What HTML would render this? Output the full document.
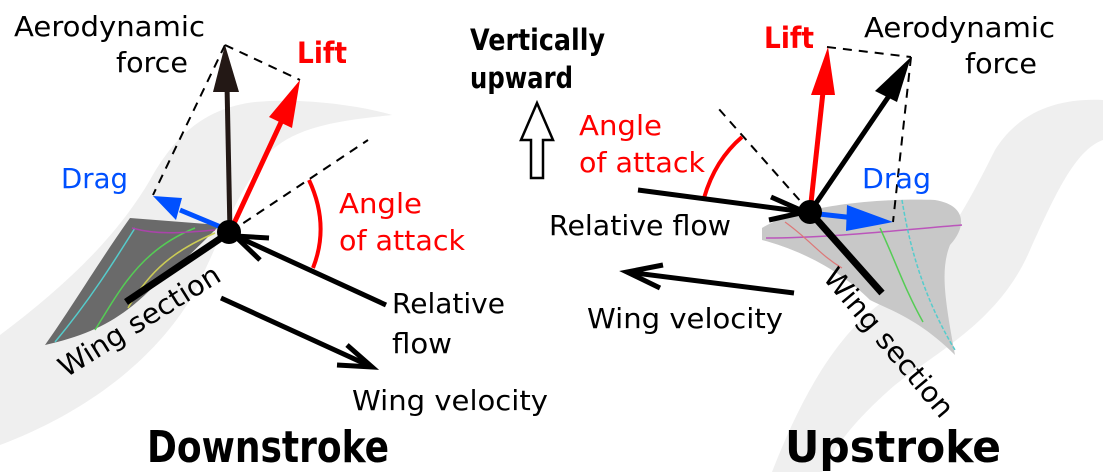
<!DOCTYPE html>
<html><head><meta charset="utf-8"><style>
html,body{margin:0;padding:0;background:#fff;}
svg{display:block;}
text{font-family:"DejaVu Sans","Liberation Sans",sans-serif;}
</style></head><body>
<svg width="1103" height="472" viewBox="0 0 1103 472" xmlns="http://www.w3.org/2000/svg">
<!-- background gray blobs -->
<path d="M0,335 C60,290 115,240 150,180 C175,135 205,108 255,102 C310,97 370,108 392,115 C345,120 300,125 272,150 C235,190 215,255 190,300 C150,365 80,415 0,445 Z" fill="#efefef"/>
<path d="M772,472 C800,400 835,335 885,300 C935,265 965,210 995,150 C1020,110 1060,98 1103,100 L1103,140 C1075,150 1055,195 1030,250 C1000,320 940,350 895,385 C860,415 835,445 822,472 Z" fill="#efefef"/>
<!-- left wing image -->
<path d="M130,218 L220,225 C200,245 180,265 150,290 C120,320 90,335 45,345 C70,310 100,260 130,218 Z" fill="#6a6a6a"/>
<path d="M55,342 C90,300 115,260 135,228" stroke="#5cc" stroke-width="1.5" fill="none"/>
<path d="M95,330 C120,290 140,250 195,228" stroke="#5c5" stroke-width="1.5" fill="none"/>
<path d="M128,308 C150,270 175,250 215,233" stroke="#cc5" stroke-width="1.5" fill="none"/>
<path d="M132,228 C160,236 190,232 215,230" stroke="#a4a" stroke-width="1.5" fill="none"/>
<!-- right wing image -->
<path d="M762,228 C800,205 880,198 935,200 C965,205 968,225 950,245 C940,270 945,300 955,355 C920,320 890,310 870,300 C840,270 800,250 762,240 Z" fill="#c8c8c8"/>
<path d="M766,238 C830,238 900,230 962,225" stroke="#b5b" stroke-width="1.5" fill="none"/>
<path d="M880,228 C895,260 905,290 923,322" stroke="#5c5" stroke-width="1.5" fill="none"/>
<path d="M902,200 C910,250 925,300 955,350" stroke="#5cc" stroke-width="1.5" fill="none" stroke-dasharray="4 2"/>
<path d="M785,222 C810,240 820,255 842,268" stroke="#d77" stroke-width="1.2" fill="none"/>

<!-- LEFT DIAGRAM -->
<g stroke="#000" stroke-width="2" fill="none" stroke-dasharray="9 7">
<line x1="225" y1="45" x2="300" y2="80"/>
<line x1="225" y1="45" x2="153" y2="195"/>
<line x1="230" y1="232" x2="368" y2="140"/>
</g>
<line x1="230" y1="232" x2="227" y2="85" stroke="#231815" stroke-width="5"/>
<polygon points="225,45 213,92 239,92" fill="#231815"/>
<line x1="230" y1="232" x2="283" y2="118" stroke="#f00" stroke-width="5"/>
<polygon points="300,80 269,117 292,128" fill="#f00"/>
<line x1="228" y1="230" x2="180" y2="210" stroke="#0050ff" stroke-width="5"/>
<polygon points="153,196 182,198 176,220" fill="#0050ff"/>
<path d="M309,180 Q330,225 313,268" stroke="#f00" stroke-width="4" fill="none"/>
<g stroke="#000" stroke-width="5" fill="none" stroke-linecap="butt">
<line x1="240" y1="238" x2="386" y2="305"/>
<line x1="235" y1="236" x2="269" y2="238"/>
<line x1="235" y1="236" x2="260" y2="260"/>
<line x1="230" y1="232" x2="126" y2="302" stroke-width="7"/>
<line x1="221" y1="298" x2="372" y2="367"/>
<polyline points="347,345 372,367 337,365"/>
</g>
<circle cx="229" cy="232" r="12" fill="#000"/>

<!-- RIGHT DIAGRAM -->
<g stroke="#000" stroke-width="2" fill="none" stroke-dasharray="9 7">
<line x1="827" y1="47" x2="911" y2="57"/>
<line x1="911" y1="57" x2="893" y2="222"/>
<line x1="810" y1="212" x2="718" y2="108"/>
</g>
<line x1="810" y1="212" x2="823" y2="92" stroke="#f00" stroke-width="5"/>
<polygon points="828,47 811,95 835,95" fill="#f00"/>
<line x1="810" y1="212" x2="893" y2="90" stroke="#000" stroke-width="5"/>
<polygon points="911,57 875,91 897,102" fill="#000"/>
<line x1="810" y1="213" x2="855" y2="218" stroke="#0050ff" stroke-width="5"/>
<polygon points="893,222 847,205 846,231" fill="#0050ff"/>
<path d="M704,198 Q715,160 742,137" stroke="#f00" stroke-width="4" fill="none"/>
<g stroke="#000" stroke-width="5" fill="none">
<line x1="638" y1="190" x2="805" y2="212"/>
<line x1="805" y1="212" x2="771" y2="197"/>
<line x1="805" y1="212" x2="769" y2="220"/>
<line x1="810" y1="212" x2="882" y2="293" stroke-width="7"/>
<line x1="794" y1="293" x2="627" y2="272"/>
<polyline points="663,265 627,272 660,288"/>
</g>
<circle cx="810" cy="212" r="12" fill="#000"/>

<!-- hollow arrow -->
<polygon points="537,103 521,140 531,140 531,178 543,178 543,140 553,140" fill="#fff" stroke="#000" stroke-width="2.5"/>

<!-- TEXT -->
<g font-size="28" fill="#000">
<text x="14" y="36" textLength="191" lengthAdjust="spacingAndGlyphs">Aerodynamic</text>
<text x="116" y="72" textLength="72" lengthAdjust="spacingAndGlyphs">force</text>
<text x="392" y="313" textLength="113" lengthAdjust="spacingAndGlyphs">Relative</text>
<text x="392" y="353" textLength="60" lengthAdjust="spacingAndGlyphs">flow</text>
<text x="352" y="410" textLength="196" lengthAdjust="spacingAndGlyphs">Wing velocity</text>
<text transform="translate(66,378) rotate(-32)" textLength="185" lengthAdjust="spacingAndGlyphs">Wing section</text>
<text x="864" y="37" textLength="191" lengthAdjust="spacingAndGlyphs">Aerodynamic</text>
<text x="965" y="73" textLength="72" lengthAdjust="spacingAndGlyphs">force</text>
<text x="549" y="235" textLength="182" lengthAdjust="spacingAndGlyphs">Relative flow</text>
<text x="587" y="328" textLength="196" lengthAdjust="spacingAndGlyphs">Wing velocity</text>
<text transform="translate(822,278) rotate(50)" textLength="185" lengthAdjust="spacingAndGlyphs">Wing section</text>
</g>
<g font-size="28" fill="#0050ff">
<text x="61" y="188" textLength="67" lengthAdjust="spacingAndGlyphs">Drag</text>
<text x="862" y="188" textLength="69" lengthAdjust="spacingAndGlyphs">Drag</text>
</g>
<g font-size="28" fill="#f00">
<text x="339" y="213" textLength="83" lengthAdjust="spacingAndGlyphs">Angle</text>
<text x="339" y="250" textLength="126" lengthAdjust="spacingAndGlyphs">of attack</text>
<text x="579" y="135" textLength="83" lengthAdjust="spacingAndGlyphs">Angle</text>
<text x="579" y="172" textLength="126" lengthAdjust="spacingAndGlyphs">of attack</text>
</g>
<g font-weight="bold" fill="#f00" font-size="29">
<text x="297" y="63" textLength="50" lengthAdjust="spacingAndGlyphs">Lift</text>
<text x="764" y="48" textLength="50" lengthAdjust="spacingAndGlyphs">Lift</text>
</g>
<g font-weight="bold" fill="#000" font-size="29">
<text x="470" y="50" textLength="135" lengthAdjust="spacingAndGlyphs">Vertically</text>
<text x="470" y="88" textLength="103" lengthAdjust="spacingAndGlyphs">upward</text>
</g>
<g font-weight="bold" fill="#000" font-size="44">
<text x="147" y="462" textLength="242" lengthAdjust="spacingAndGlyphs">Downstroke</text>
<text x="785" y="462" textLength="216" lengthAdjust="spacingAndGlyphs">Upstroke</text>
</g>
</svg>
</body></html>
